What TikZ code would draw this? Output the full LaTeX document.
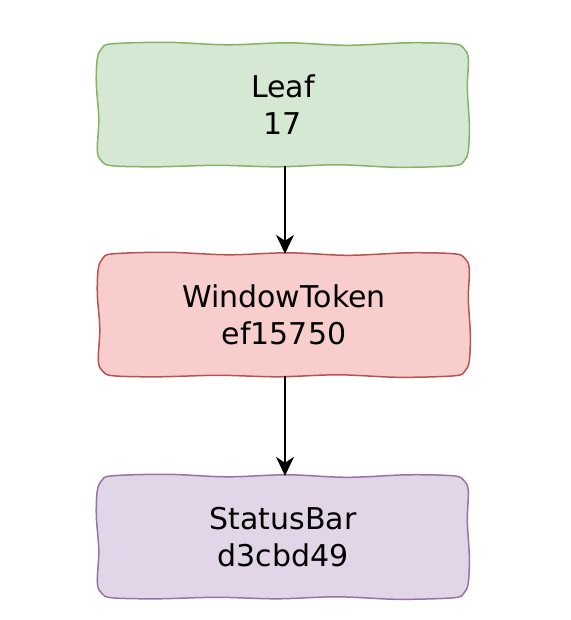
\documentclass[tikz,border=0pt]{standalone}
\usepackage{fontspec}
\setmainfont{DejaVu Sans}
\usetikzlibrary{arrows.meta,calc,backgrounds}
\definecolor{leaffill}{HTML}{D5E8D4}
\definecolor{leafline}{HTML}{82B366}
\definecolor{tokenfill}{HTML}{F8CECC}
\definecolor{tokenline}{HTML}{B85450}
\definecolor{barfill}{HTML}{E1D5E7}
\definecolor{barline}{HTML}{9673A6}
% wobbly hand drawn frame round a node: #1 node, #2 fill, #3 line
\newcommand\sketchframe[3]{%
  \begin{scope}[on background layer]
  \draw[line width=1.5pt, draw=#3, fill=#2] plot[smooth cycle, tension=0.55] coordinates {
    ($(#1.north west)+(4.5,4.5)$) ($(#1.north west)+(15,0)$) ($(#1.north west)+(70,-1.5)$)
    ($(#1.north west)+(130,1)$) ($(#1.north west)+(190,-1)$) ($(#1.north west)+(250,1.5)$)
    ($(#1.north west)+(310,-1)$) ($(#1.north west)+(356,0)$) ($(#1.north west)+(366.5,4.5)$)
    ($(#1.north west)+(371,15)$) ($(#1.north west)+(370,45)$) ($(#1.north west)+(372,80)$)
    ($(#1.north west)+(371,107)$) ($(#1.north west)+(366.5,117.5)$) ($(#1.north west)+(356,122)$)
    ($(#1.north west)+(300,123.5)$) ($(#1.north west)+(240,121)$) ($(#1.north west)+(180,123)$)
    ($(#1.north west)+(120,121.5)$) ($(#1.north west)+(60,123)$) ($(#1.north west)+(15,122)$)
    ($(#1.north west)+(4.5,117.5)$) ($(#1.north west)+(0,107)$) ($(#1.north west)+(1.5,75)$)
    ($(#1.north west)+(-1,40)$) ($(#1.north west)+(0,15)$)};
  \end{scope}}

\begin{document}
\begin{tikzpicture}[x=1pt, y=-1pt,
    sketchbox/.style={minimum width=371pt, minimum height=122pt, inner sep=0pt,
        align=center, font=\fontsize{30}{37}\selectfont},
    link/.style={line width=1.6pt, -{Stealth[length=19pt, width=18pt, inset=6pt]}}]
    %%%%% START %%%%%
    \useasboundingbox (0, 0) rectangle (570, 620);

    \node[sketchbox] (leaf) at (283, 105) {Leaf\\17};
    \sketchframe{leaf}{leaffill}{leafline}

    \node[sketchbox] (token) at (284, 315) {WindowToken\\ef15750};
    \sketchframe{token}{tokenfill}{tokenline}

    \node[sketchbox] (bar) at (283, 537) {StatusBar\\d3cbd49};
    \sketchframe{bar}{barfill}{barline}

    \draw[link] (leaf.south -| 285, 0) -- (token.north -| 285, 0);
    \draw[link] (token.south -| 285, 0) -- (bar.north -| 285, 0);
    %%%%% END %%%%%
\end{tikzpicture}
\end{document}
